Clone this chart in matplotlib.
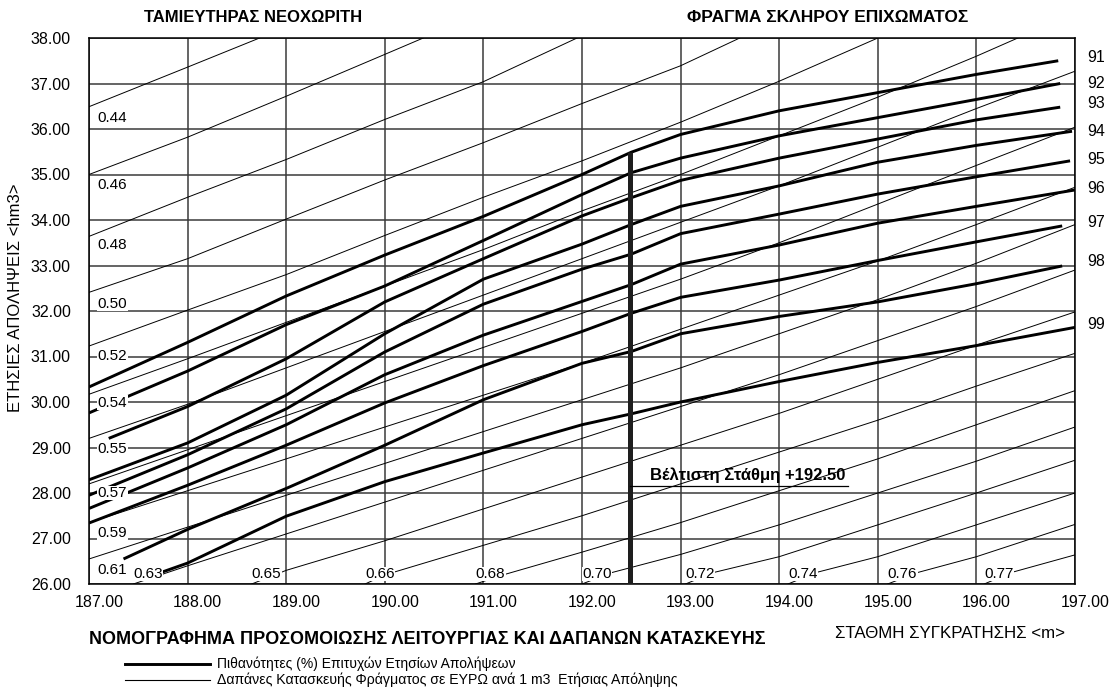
import matplotlib
matplotlib.use("Agg")

import matplotlib.pyplot as plt
import matplotlib.transforms as mtransforms

plt.rcParams["font.family"] = ["Liberation Sans", "DejaVu Sans"]

# ── Probability curves (thick) ────────────────────────────────────────────────
p91_x = [187.0, 188.0, 189.0, 190.0, 191.0, 192.0, 192.5, 193.0, 194.0, 195.0, 196.0, 196.83]
p91_y = [30.33, 31.31, 32.33, 33.23, 34.08, 35.00, 35.49, 35.88, 36.40, 36.80, 37.20, 37.50]
p92_x = [187.0, 188.0, 189.0, 190.0, 191.0, 192.0, 192.5, 193.0, 194.0, 195.0, 196.0, 196.85]
p92_y = [29.76, 30.68, 31.70, 32.55, 33.55, 34.56, 35.04, 35.36, 35.85, 36.25, 36.65, 37.00]
p93_x = [187.2, 188.0, 189.0, 190.0, 191.0, 192.0, 192.5, 193.0, 194.0, 195.0, 196.0, 196.85]
p93_y = [29.20, 29.90, 30.95, 32.20, 33.15, 34.09, 34.49, 34.87, 35.36, 35.78, 36.20, 36.48]
p94_x = [187.0, 188.0, 189.0, 190.0, 191.0, 192.0, 192.5, 193.0, 194.0, 195.0, 196.0, 196.97]
p94_y = [28.29, 29.10, 30.15, 31.50, 32.70, 33.47, 33.90, 34.30, 34.75, 35.27, 35.64, 35.95]
p95_x = [187.0, 188.0, 189.0, 190.0, 191.0, 192.0, 192.5, 193.0, 194.0, 195.0, 196.0, 196.95]
p95_y = [27.95, 28.84, 29.85, 31.10, 32.15, 32.92, 33.25, 33.70, 34.13, 34.57, 34.95, 35.30]
p96_x = [187.0, 188.0, 189.0, 190.0, 191.0, 192.0, 192.5, 193.0, 194.0, 195.0, 196.0, 197.0]
p96_y = [27.66, 28.55, 29.50, 30.60, 31.47, 32.21, 32.58, 33.03, 33.45, 33.93, 34.30, 34.66]
p97_x = [187.0, 188.0, 189.0, 190.0, 191.0, 192.0, 192.5, 193.0, 194.0, 195.0, 196.0, 196.87]
p97_y = [27.34, 28.17, 29.05, 29.98, 30.80, 31.55, 31.95, 32.30, 32.68, 33.11, 33.52, 33.87]
p98_x = [187.35, 188.0, 189.0, 190.0, 191.0, 192.0, 192.5, 193.0, 194.0, 195.0, 196.0, 196.87]
p98_y = [26.55, 27.20, 28.10, 29.05, 30.05, 30.85, 31.11, 31.50, 31.88, 32.20, 32.60, 32.99]
p99_x = [187.7, 188.0, 189.0, 190.0, 191.0, 192.0, 192.5, 193.0, 194.0, 195.0, 196.0, 197.0]
p99_y = [26.23, 26.46, 27.49, 28.25, 28.88, 29.50, 29.74, 30.00, 30.45, 30.87, 31.24, 31.64]

prob_names = ["91", "92", "93", "94", "95", "96", "97", "98", "99"]
prob_label_y = [37.58, 37.01, 36.55, 35.95, 35.33, 34.70, 33.95, 33.09, 31.70]

# ── Cost contours, EUR per m3 (thin) ──────────────────────────────────────────
c044_x = [187.0, 188.0, 188.73]
c044_y = [36.49, 37.36, 38.00]
c046_x = [187.0, 188.0, 189.0, 190.0, 190.39]
c046_y = [35.00, 35.82, 36.72, 37.64, 38.00]
c048_x = [187.0, 188.0, 189.0, 190.0, 191.0, 191.95]
c048_y = [33.64, 34.50, 35.33, 36.21, 37.04, 38.00]
c050_x = [187.0, 188.0, 189.0, 190.0, 191.0, 192.0, 193.0, 193.6]
c050_y = [32.41, 33.15, 34.02, 34.88, 35.70, 36.56, 37.39, 38.00]
c052_x = [187.0, 188.0, 189.0, 190.0, 191.0, 192.0, 193.0, 194.0, 195.0]
c052_y = [31.23, 32.02, 32.80, 33.66, 34.50, 35.30, 36.15, 37.05, 38.00]
c054_x = [187.0, 188.0, 189.0, 190.0, 191.0, 192.0, 193.0, 194.0, 195.0, 196.0, 196.42]
c054_y = [30.17, 30.95, 31.75, 32.55, 33.35, 34.20, 35.00, 35.85, 36.70, 37.60, 38.00]
full_x = [187.0, 188.0, 189.0, 190.0, 191.0, 192.0, 193.0, 194.0, 195.0, 196.0, 197.0]
c055_y = [29.20, 29.95, 30.75, 31.55, 32.35, 33.15, 33.95, 34.75, 35.60, 36.45, 37.27]
c057_y = [28.20, 28.95, 29.70, 30.45, 31.20, 31.95, 32.70, 33.50, 34.35, 35.20, 36.04]
c059_y = [27.35, 28.05, 28.75, 29.45, 30.15, 30.85, 31.60, 32.35, 33.10, 33.90, 34.72]
c061_y = [26.55, 27.25, 27.95, 28.65, 29.35, 30.05, 30.75, 31.50, 32.25, 33.05, 33.90]
c063_x = [187.45, 188.0, 189.0, 190.0, 191.0, 192.0, 193.0, 194.0, 195.0, 196.0, 197.0]
c063_y = [26.00, 26.40, 27.10, 27.80, 28.50, 29.20, 29.90, 30.60, 31.35, 32.10, 32.90]
c065_x = [188.65, 189.0, 190.0, 191.0, 192.0, 193.0, 194.0, 195.0, 196.0, 197.0]
c065_y = [26.00, 26.30, 26.95, 27.65, 28.35, 29.05, 29.75, 30.50, 31.25, 31.98]
c066_x = [189.8, 190.0, 191.0, 192.0, 193.0, 194.0, 195.0, 196.0, 197.0]
c066_y = [26.00, 26.20, 26.85, 27.50, 28.20, 28.90, 29.60, 30.35, 31.07]
c068_x = [190.92, 191.2, 192.0, 193.0, 194.0, 195.0, 196.0, 197.0]
c068_y = [26.00, 26.20, 26.70, 27.35, 28.05, 28.75, 29.50, 30.25]
c070_x = [192.0, 192.3, 193.0, 194.0, 195.0, 196.0, 197.0]
c070_y = [26.00, 26.25, 26.65, 27.30, 28.00, 28.70, 29.45]
c072_x = [193.05, 193.33, 194.0, 195.0, 196.0, 197.0]
c072_y = [26.00, 26.25, 26.60, 27.30, 28.00, 28.72]
c074_x = [194.09, 194.37, 195.0, 196.0, 197.0]
c074_y = [26.00, 26.25, 26.60, 27.30, 28.00]
c076_x = [195.1, 195.4, 196.0, 197.0]
c076_y = [26.00, 26.25, 26.60, 27.31]
c077_x = [196.08, 196.35, 197.0]
c077_y = [26.00, 26.25, 26.64]

left_cost_names = ["0.44", "0.46", "0.48", "0.50", "0.52", "0.54", "0.55", "0.57", "0.59", "0.61"]
left_cost_label_y = [36.24, 34.76, 33.44, 32.16, 31.02, 29.98, 28.97, 28.00, 27.12, 26.30]
bottom_cost_names = ["0.63", "0.65", "0.66", "0.68", "0.70", "0.72", "0.74", "0.76", "0.77"]
bottom_cost_label_x = [187.45, 188.65, 189.80, 190.92, 192.00, 193.05, 194.09, 195.10, 196.08]

optimum_level = 192.49
optimum_top = 35.50

x_ticks = [187, 188, 189, 190, 191, 192, 193, 194, 195, 196, 197]
y_ticks = [26, 27, 28, 29, 30, 31, 32, 33, 34, 35, 36, 37, 38]

# ── Figure ─────────────────────────────────────────────────────────────────────
fig = plt.figure(figsize=(11.09, 6.95), dpi=100)
ax = fig.add_axes([89 / 1109, 1 - 584 / 695, (1075 - 89) / 1109, (584 - 38) / 695])
ax.set_xlim(187, 197)
ax.set_ylim(26, 38)

ax.set_xticks(x_ticks)
ax.set_yticks(y_ticks)
ax.set_xticklabels([f"{v:.2f}" for v in x_ticks], fontsize=11.5)
ax.set_yticklabels([f"{v:.2f}" for v in y_ticks], fontsize=11.5)
ax.tick_params(axis="y", length=0, pad=13)
ax.tick_params(axis="x", length=0, pad=8)
ax.grid(True, color="#3a3a3a", linewidth=1.1, zorder=0)
for spine in ax.spines.values():
    spine.set_color("black")
    spine.set_linewidth(1.1)

# x tick labels sit a little to the right of their grid lines
shift = mtransforms.ScaledTranslation(10 / 100, 0, fig.dpi_scale_trans)
for lab in ax.get_xticklabels():
    lab.set_transform(lab.get_transform() + shift)

# Thin cost contours
thin_lines = [
    (c044_x, c044_y), (c046_x, c046_y), (c048_x, c048_y), (c050_x, c050_y),
    (c052_x, c052_y), (c054_x, c054_y), (full_x, c055_y), (full_x, c057_y),
    (full_x, c059_y), (full_x, c061_y), (c063_x, c063_y), (c065_x, c065_y),
    (c066_x, c066_y), (c068_x, c068_y), (c070_x, c070_y), (c072_x, c072_y),
    (c074_x, c074_y), (c076_x, c076_y), (c077_x, c077_y),
]
for xs, ys in thin_lines:
    ax.plot(xs, ys, color="black", linewidth=0.7, zorder=2)

# Thick probability curves
thick_lines = [
    (p91_x, p91_y), (p92_x, p92_y), (p93_x, p93_y), (p94_x, p94_y),
    (p95_x, p95_y), (p96_x, p96_y), (p97_x, p97_y), (p98_x, p98_y),
    (p99_x, p99_y),
]
for xs, ys in thick_lines:
    ax.plot(xs, ys, color="black", linewidth=2.1, zorder=3,
            solid_capstyle="butt", solid_joinstyle="round")

# Optimum level
ax.plot([optimum_level, optimum_level], [26, optimum_top], color="#1e1e1e",
        linewidth=3.6, zorder=4, solid_capstyle="butt")
ax.plot([optimum_level, 194.7], [28.15, 28.15], color="black", linewidth=0.9, zorder=4)
ax.text(192.69, 28.21, "Βέλτιστη Στάθμη +192.50", fontsize=12, fontweight="bold",
        ha="left", va="bottom", zorder=5)

# Contour labels (white box hides the line start under the label)
for name, yv in zip(left_cost_names, left_cost_label_y):
    ax.text(187.09, yv, name, fontsize=11, ha="left", va="center", zorder=6,
            bbox=dict(facecolor="white", edgecolor="none", pad=0.3))
for name, xv in zip(bottom_cost_names, bottom_cost_label_x):
    ax.text(xv, 26.22, name, fontsize=11, ha="left", va="center", zorder=6,
            bbox=dict(facecolor="white", edgecolor="none", pad=0.3))

# Probability labels at the right
for name, yv in zip(prob_names, prob_label_y):
    ax.text(197.12, yv, name, fontsize=11.5, ha="left", va="center", clip_on=False)

# Titles and axis labels
fig.text(253 / 1109, 1 - 18 / 695, "ΤΑΜΙΕΥΤΗΡΑΣ ΝΕΟΧΩΡΙΤΗ", fontsize=12,
         fontweight="bold", ha="center", va="center")
fig.text(828 / 1109, 1 - 18 / 695, "ΦΡΑΓΜΑ ΣΚΛΗΡΟΥ ΕΠΙΧΩΜΑΤΟΣ", fontsize=12.5,
         fontweight="bold", ha="center", va="center")
fig.text(16 / 1109, 1 - 298 / 695, "ΕΤΗΣΙΕΣ ΑΠΟΛΗΨΕΙΣ <hm3>", fontsize=12,
         rotation=90, ha="center", va="center")
fig.text(950 / 1109, 1 - 633 / 695, "ΣΤΑΘΜΗ ΣΥΓΚΡΑΤΗΣΗΣ <m>", fontsize=12.2,
         ha="center", va="center")
fig.text(89 / 1109, 1 - 640 / 695,
         "ΝΟΜΟΓΡΑΦΗΜΑ ΠΡΟΣΟΜΟΙΩΣΗΣ ΛΕΙΤΟΥΡΓΙΑΣ ΚΑΙ ΔΑΠΑΝΩΝ ΚΑΤΑΣΚΕΥΗΣ",
         fontsize=13, fontweight="bold", ha="left", va="center")

# Legend drawn by hand below the title
fig.add_artist(plt.Line2D([125 / 1109, 210 / 1109], [1 - 664 / 695, 1 - 664 / 695],
                          color="black", linewidth=2.1))
fig.add_artist(plt.Line2D([125 / 1109, 210 / 1109], [1 - 680 / 695, 1 - 680 / 695],
                          color="black", linewidth=0.8))
fig.text(217 / 1109, 1 - 664 / 695, "Πιθανότητες (%) Επιτυχών Ετησίων Απολήψεων",
         fontsize=10, ha="left", va="center")
fig.text(217 / 1109, 1 - 680 / 695,
         "Δαπάνες Κατασκευής Φράγματος σε ΕΥΡΩ ανά 1 m3  Ετήσιας Απόληψης",
         fontsize=10.2, ha="left", va="center")

fig.savefig("out.png", dpi=100, facecolor="white")
